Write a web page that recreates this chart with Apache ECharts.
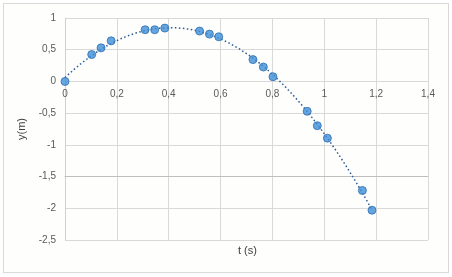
<!DOCTYPE html>
<html><head><meta charset="utf-8">
<script src="https://cdn.jsdelivr.net/npm/echarts@6/dist/echarts.min.js"></script>
<style>html,body{margin:0;padding:0;background:#fff}
#c{position:absolute;left:3px;top:3px;width:444px;height:268px;border:1px solid #d9d9d9;background:#fefefc}</style>
</head><body><div id="c"></div>
<script>
const tValues = [0, 0.103, 0.139, 0.178, 0.309, 0.346, 0.385, 0.519, 0.557, 0.593, 0.725, 0.765, 0.802, 0.934, 0.973, 1.012, 1.147, 1.184];
const yValues = [0, 0.424, 0.529, 0.64, 0.815, 0.815, 0.841, 0.794, 0.746, 0.704, 0.344, 0.227, 0.074, -0.471, -0.698, -0.894, -1.719, -2.03];
const xTicks = [0, 0.2, 0.4, 0.6, 0.8, 1, 1.2, 1.4];
const yTicks = [1, 0.5, 0, -0.5, -1, -1.5, -2, -2.5];

// quadratic least-squares trendline (polynomial order 2)
function quadFit(x, y) {
  let n = x.length, s = [0,0,0,0,0], r = [0,0,0];
  for (let i = 0; i < n; i++) {
    let p = 1;
    for (let k = 0; k < 5; k++) { s[k] += p; if (k < 3) r[k] += p * y[i]; p *= x[i]; }
  }
  const A = [[s[0],s[1],s[2],r[0]],[s[1],s[2],s[3],r[1]],[s[2],s[3],s[4],r[2]]];
  for (let i = 0; i < 3; i++) {
    for (let j = i + 1; j < 3; j++) {
      const f = A[j][i] / A[i][i];
      for (let k = i; k < 4; k++) A[j][k] -= f * A[i][k];
    }
  }
  const c = [0,0,0];
  for (let i = 2; i >= 0; i--) {
    let v = A[i][3];
    for (let k = i + 1; k < 3; k++) v -= A[i][k] * c[k];
    c[i] = v / A[i][i];
  }
  return c;
}
const coef = quadFit(tValues, yValues);
const tMin = tValues[0], tMax = tValues[tValues.length - 1];
const trend = [];
for (let i = 0; i <= 60; i++) {
  const t = tMin + (tMax - tMin) * i / 60;
  trend.push([t, coef[0] + coef[1] * t + coef[2] * t * t]);
}
const fmt = v => String(Math.round(v * 10) / 10).replace('.', ',');
const font = 'Liberation Sans';
const chart = echarts.init(document.getElementById('c'));
chart.setOption({
  animation: false,
  grid: { left: 61, right: 20, top: 14, bottom: 32 },
  xAxis: {
    type: 'value', min: xTicks[0], max: xTicks[xTicks.length - 1], interval: 0.2,
    axisLine: { onZero: true, lineStyle: { color: '#bfbfbf' } },
    axisTick: { show: false },
    axisLabel: { color: '#595959', fontFamily: font, fontSize: 10, formatter: fmt, margin: 8 },
    splitLine: { show: true, lineStyle: { color: '#d9d9d9' } }
  },
  yAxis: {
    type: 'value', min: yTicks[yTicks.length - 1], max: yTicks[0], interval: 0.5,
    name: 'y(m)', nameLocation: 'middle', nameGap: 21, nameRotate: 90,
    nameTextStyle: { color: '#404040', fontFamily: font, fontSize: 11 },
    axisLine: { show: true, lineStyle: { color: '#d0d0d0' } },
    axisTick: { show: false },
    axisLabel: { color: '#595959', fontFamily: font, fontSize: 10, formatter: fmt, margin: 9 },
    splitLine: { show: true, lineStyle: { color: '#d9d9d9' } }
  },
  graphic: [{
    type: 'text', left: 234, top: 241,
    style: { text: 't (s)', fill: '#404040', font: '11px ' + font }
  }],
  series: [
    { type: 'line', data: trend, showSymbol: false, symbol: 'none', smooth: false,
      lineStyle: { color: '#2a5a9c', width: 1.5, type: [1.5, 2.5] }, silent: true, z: 1 },
    { type: 'scatter', data: tValues.map((t, i) => [t, yValues[i]]), symbolSize: 8,
      itemStyle: { color: '#3f8fd8', borderColor: '#2f6fae', borderWidth: 1 }, z: 2 }
  ]
});
// place the x axis at y = 0 (as in the reference)
const zeroY = chart.convertToPixel({ yAxisIndex: 0 }, 0);
const bottomY = chart.convertToPixel({ yAxisIndex: 0 }, yTicks[yTicks.length - 1]);
chart.setOption({ xAxis: { offset: -(bottomY - zeroY) } });
</script></body></html>
